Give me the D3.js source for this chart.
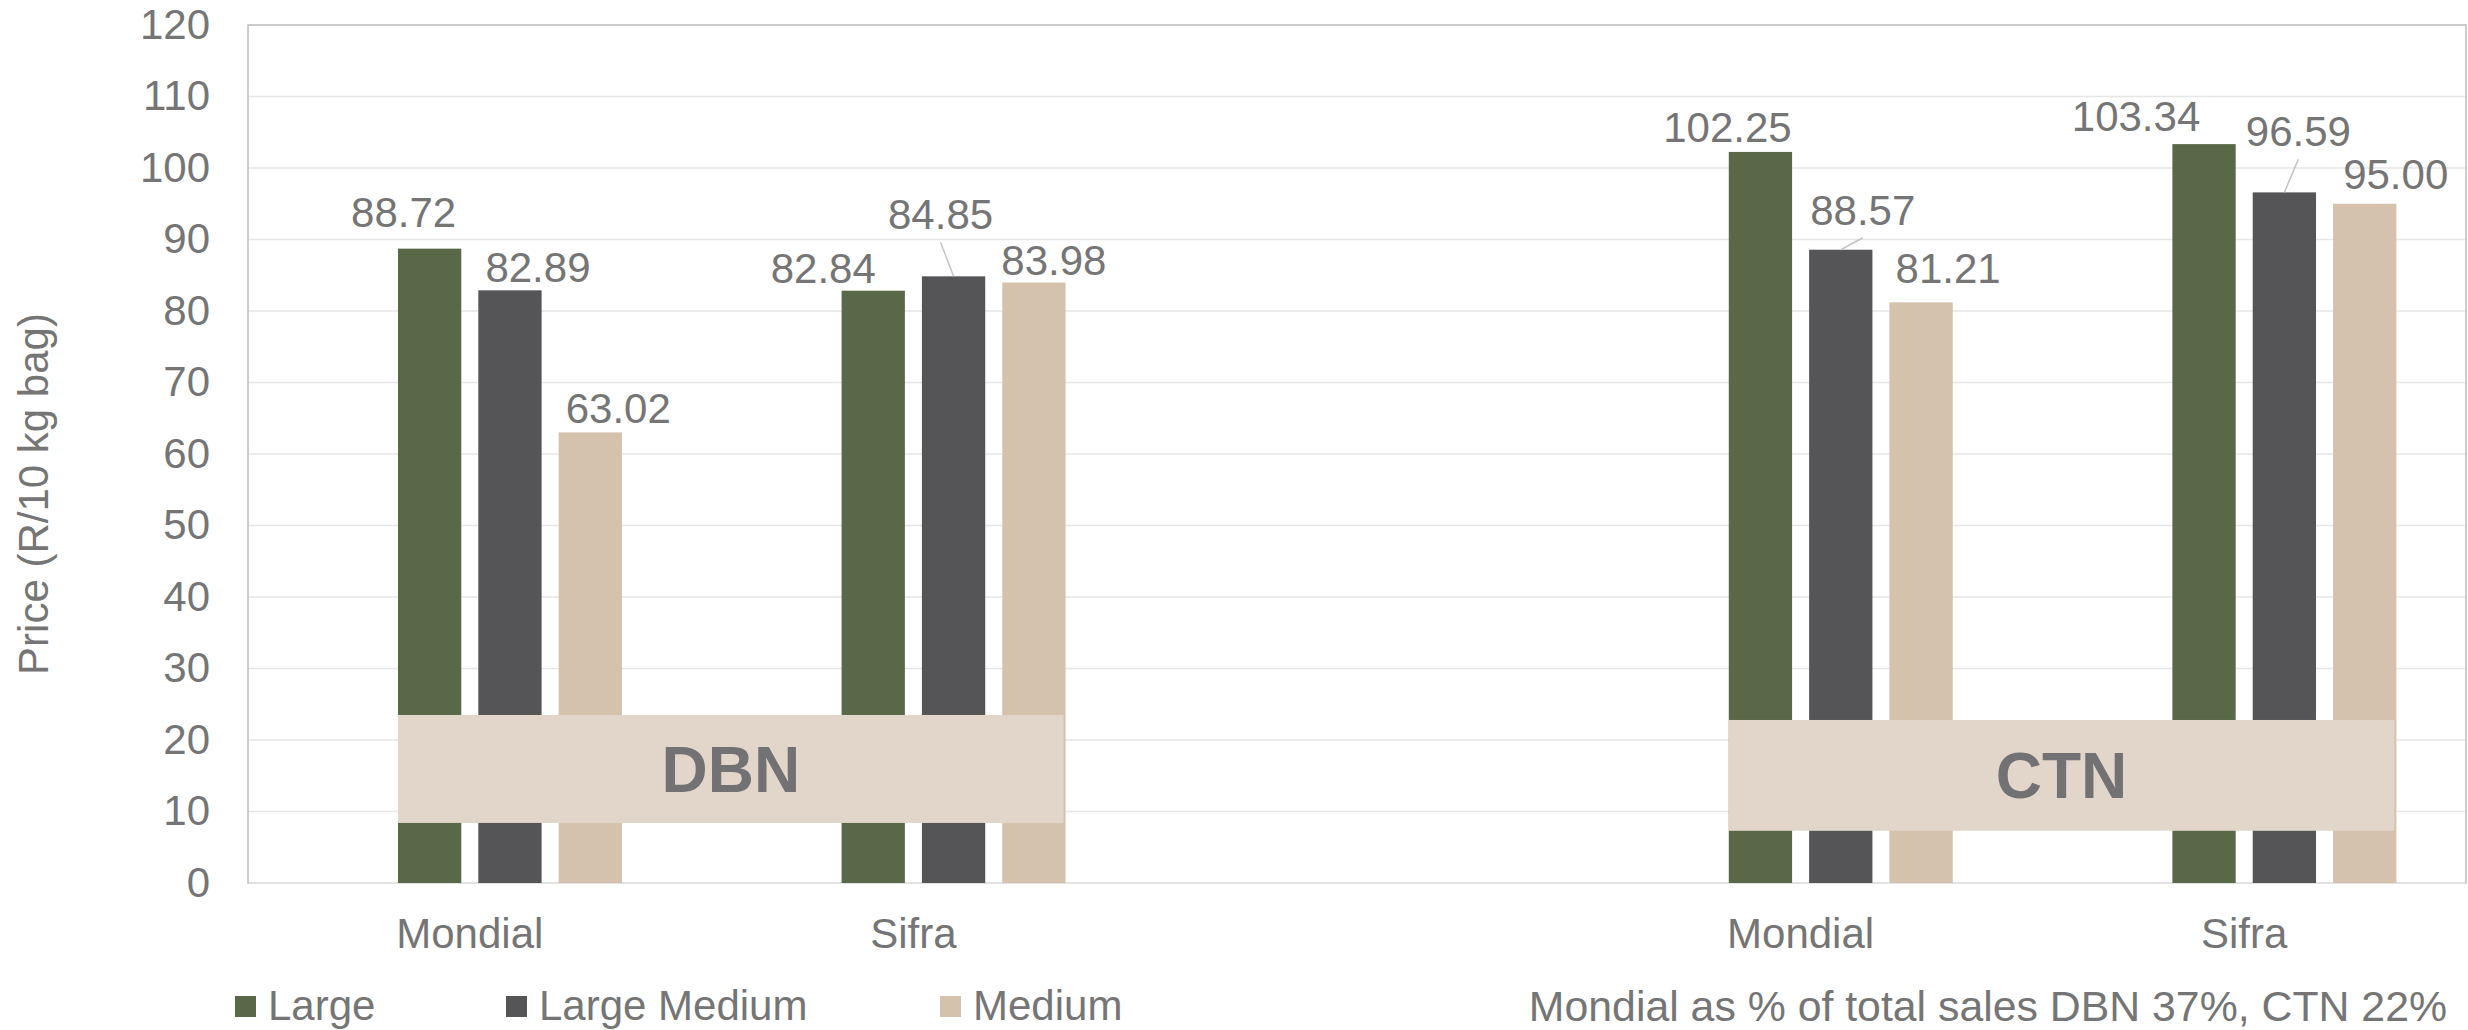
<!DOCTYPE html>
<html>
<head>
<meta charset="utf-8">
<script src="https://cdn.jsdelivr.net/npm/d3@7"></script>
<style>
  html, body { margin: 0; padding: 0; background: #fff; }
  svg { display: block; }
  text { font-family: "Liberation Sans", Arial, sans-serif; }
</style>
</head>
<body>
<svg id="chart" width="2468" height="1030"></svg>
<script>
// ---------------- data ----------------
const categories = ["Mondial", "Sifra", "", "Mondial", "Sifra"];
const seriesNames = ["Large", "Large Medium", "Medium"];
const large       = [88.72, 82.84, null, 102.25, 103.34];
const largeMedium = [82.89, 84.85, null, 88.57, 96.59];
const medium      = [63.02, 83.98, null, 81.21, 95.00];
const yTicks = [0, 10, 20, 30, 40, 50, 60, 70, 80, 90, 100, 110, 120];
const regionNames = ["DBN", "CTN"];
const regionFirstCat = [0, 3];
const regionLastCat = [1, 4];
const regionLow = [8.4, 7.3];
const regionHigh = [23.5, 22.8];
const yTitle = "Price (R/10 kg bag)";
const note = "Mondial as % of total sales DBN 37%, CTN 22%";

// ---------------- styling / placement ----------------
const colors = { "Large": "#596948", "Large Medium": "#555557", "Medium": "#D4C2AC" };
const textColor = "#757575";
// label nudges (dx, dy relative to bar centre / bar top) and leader-line flags
const labelNudge = {
  "Large":        [[-26,-22],[-50,-8],null,[-33,-10],[-68,-13]],
  "Large Medium": [[28,-8],[-13,-47],null,[22,-25],[14,-46]],
  "Medium":       [[28,-9],[20,-8],null,[27,-19],[31,-15]]
};
const leader = {
  "Large":        [false,false,false,false,false],
  "Large Medium": [false,true,false,true,true],
  "Medium":       [false,false,false,false,false]
};

const seriesValues = { "Large": large, "Large Medium": largeMedium, "Medium": medium };
const slots = ["_reserved", ...seriesNames];

const svg = d3.select("#chart");
const pLeft = 248, pRight = 2466, pTop = 25, pBottom = 883;
const fs = 42;

const y = d3.scaleLinear().domain([0, 120]).range([pBottom, pTop]);
const x0 = d3.scaleBand().domain(d3.range(categories.length)).range([pLeft, pRight])
  .paddingInner(0.2756).paddingOuter(0.1378);
const x1 = d3.scaleBand().domain(slots).range([0, x0.bandwidth()])
  .paddingInner(0.212).paddingOuter(0.106);

// gridlines
svg.append("g").selectAll("line").data(yTicks.filter(t => t > 0 && t < 120)).join("line")
  .attr("x1", pLeft).attr("x2", pRight)
  .attr("y1", d => y(d)).attr("y2", d => y(d))
  .attr("stroke", "#E6E6E6").attr("stroke-width", 1.5);

// plot border
svg.append("rect").attr("x", pLeft).attr("y", pTop)
  .attr("width", pRight - pLeft).attr("height", pBottom - pTop)
  .attr("fill", "none").attr("stroke", "#BDBDBD").attr("stroke-width", 1.5);
svg.append("line").attr("x1", pLeft + 1).attr("x2", pRight - 1)
  .attr("y1", pBottom).attr("y2", pBottom)
  .attr("stroke", "#E2E2E2").attr("stroke-width", 2);

// y axis labels
const yAxis = svg.append("g").attr("transform", `translate(${pLeft},0)`)
  .call(d3.axisLeft(y).tickValues(yTicks).tickSize(0).tickPadding(38));
yAxis.select(".domain").remove();
yAxis.selectAll("text").attr("font-size", fs).attr("fill", textColor)
  .attr("font-family", '"Liberation Sans", Arial, sans-serif');

// x axis labels
const xAxis = svg.append("g").attr("transform", `translate(0,${pBottom})`)
  .call(d3.axisBottom(x0).tickSize(0).tickPadding(35).tickFormat(i => categories[i]));
xAxis.select(".domain").remove();
xAxis.selectAll("text").attr("font-size", fs).attr("fill", textColor)
  .attr("font-family", '"Liberation Sans", Arial, sans-serif');

// bars
const barData = [];
seriesNames.forEach(s => {
  seriesValues[s].forEach((v, i) => {
    if (v !== null) barData.push({ s, i, v });
  });
});
svg.append("g").selectAll("rect").data(barData).join("rect")
  .attr("x", d => x0(d.i) + x1(d.s))
  .attr("y", d => y(d.v))
  .attr("width", x1.bandwidth())
  .attr("height", d => y(0) - y(d.v))
  .attr("fill", d => colors[d.s]);

// labels + leader lines
const lbl = svg.append("g");
barData.forEach(d => {
  const n = labelNudge[d.s][d.i];
  const cx = x0(d.i) + x1(d.s) + x1.bandwidth() / 2;
  const ty = y(d.v);
  const lx = cx + n[0], ly = ty + n[1];
  if (leader[d.s][d.i]) {
    lbl.append("line").attr("x1", lx).attr("y1", ly + 13).attr("x2", cx).attr("y2", ty)
      .attr("stroke", "#C4C4C4").attr("stroke-width", 1.5);
  }
  lbl.append("text").attr("x", lx).attr("y", ly)
    .attr("text-anchor", "middle").attr("font-size", fs).attr("fill", textColor)
    .text(d3.format(".2f")(d.v));
});

// region boxes
const rg = svg.append("g");
regionNames.forEach((name, k) => {
  const xa = x0(regionFirstCat[k]) + x1(seriesNames[0]);
  const xb = x0(regionLastCat[k]) + x1(seriesNames[seriesNames.length - 1]) + x1.bandwidth() - 2;
  const yTop = y(regionHigh[k]), yBot = y(regionLow[k]);
  rg.append("rect").attr("x", xa).attr("y", yTop)
    .attr("width", xb - xa).attr("height", yBot - yTop)
    .attr("fill", "#E2D6CA");
  rg.append("text").attr("x", (xa + xb) / 2).attr("y", (yTop + yBot) / 2 + 0.36 * 64)
    .attr("text-anchor", "middle").attr("font-size", 64).attr("font-weight", "bold")
    .attr("fill", "#727274").text(name);
});

// y title
svg.append("text").attr("transform", "translate(48,494) rotate(-90)")
  .attr("text-anchor", "middle").attr("font-size", fs).attr("fill", textColor)
  .text(yTitle);

// legend
const legendX = [235, 506, 940];
const lg = svg.append("g");
seriesNames.forEach((s, k) => {
  lg.append("rect").attr("x", legendX[k]).attr("y", 996).attr("width", 21).attr("height", 21)
    .attr("fill", colors[s]);
  lg.append("text").attr("x", legendX[k] + 33).attr("y", 1020)
    .attr("font-size", fs).attr("fill", textColor).text(s);
});

// note
svg.append("text").attr("x", 2447).attr("y", 1021).attr("text-anchor", "end")
  .attr("font-size", 42.8).attr("fill", textColor).text(note);
</script>
</body>
</html>
